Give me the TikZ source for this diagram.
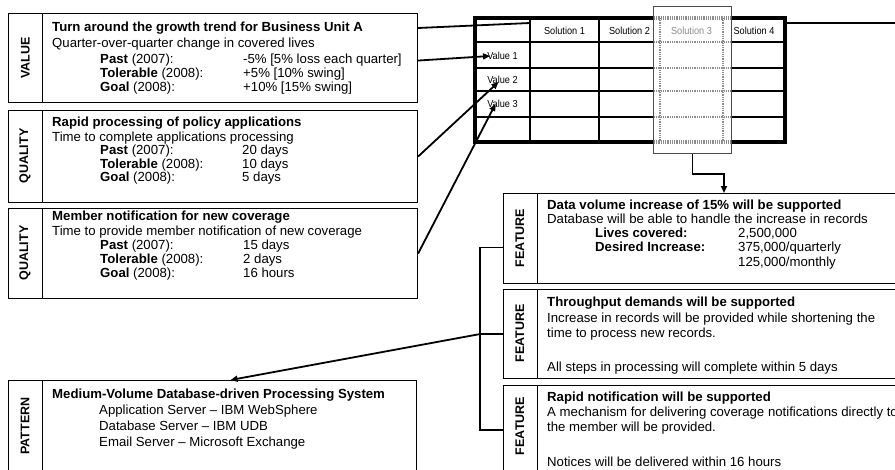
\documentclass[tikz,border=0pt]{standalone}
\usepackage{fontspec}
\setmainfont{Liberation Sans}
\newfontfamily\cellfont[FakeStretch=0.9]{Liberation Sans}
\usetikzlibrary{arrows.meta,calc}
\begin{document}
\begin{tikzpicture}[x=1pt,y=-1pt,
  box/.style={draw=black,line width=1.1pt,fill=white,anchor=north west,inner sep=0pt,
    path picture={\draw[line width=1.1pt]
      ([xshift=34pt]path picture bounding box.north west) --
      ([xshift=34pt]path picture bounding box.south west);}},
  tag/.style={rotate=90,inner sep=0pt,font=\fontsize{12.5}{14}\selectfont\bfseries},
  txt/.style={anchor=base west,inner sep=0pt,yshift=-0.9pt,font=\fontsize{13.2}{15}\selectfont},
  hd/.style={txt,font=\fontsize{13.2}{15}\selectfont\bfseries},
  cell/.style={inner sep=0pt,font=\cellfont\fontsize{10.2}{12}\selectfont},
  link/.style={line width=1.8pt},
  arr/.style={link,-{Triangle[length=7pt,width=6pt]}},
  gridline/.style={line width=2.2pt},
  gdot/.style={draw=black!45,line width=1.6pt,dash pattern=on 1pt off 0.8pt},
]
\useasboundingbox (0,0) rectangle (895,469);
\clip (0,0) rectangle (895,469);

% ---------- left column: value and quality boxes ----------
\node[box,minimum width=409pt,minimum height=89pt] (vbox) at (8,13) {};
\node[tag] (vtag) at (25.5,58) {VALUE};
\node[hd]  (vt1) at (52,30.4) {Turn around the growth trend for Business Unit A};
\node[txt] (vt2) at (52,46.2) {Quarter-over-quarter change in covered lives};
\node[txt] (vt3) at (100,62.5) {\textbf{Past} (2007):};
\node[txt] (vt4) at (243,62.5) {-5\% [5\% loss each quarter]};
\node[txt] (vt5) at (100,76.6) {\textbf{Tolerable} (2008):};
\node[txt] (vt6) at (243,76.6) {+5\% [10\% swing]};
\node[txt] (vt7) at (100,90.8) {\textbf{Goal} (2008):};
\node[txt] (vt8) at (243,90.8) {+10\% [15\% swing]};

\node[box,minimum width=409pt,minimum height=92pt] (q1) at (8,110) {};
\node[tag] (q1tag) at (25,156) {QUALITY};
\node[hd]  (q1t1) at (52,126) {Rapid processing of policy applications};
\node[txt] (q1t2) at (52,140.4) {Time to complete applications processing};
\node[txt] (q1t3) at (100,153.8) {\textbf{Past} (2007):};
\node[txt] (q1t4) at (242,153.8) {20 days};
\node[txt] (q1t5) at (100,167.1) {\textbf{Tolerable} (2008):};
\node[txt] (q1t6) at (242,167.1) {10 days};
\node[txt] (q1t7) at (100,180.4) {\textbf{Goal} (2008):};
\node[txt] (q1t8) at (242,180.4) {5 days};

\node[box,minimum width=409pt,minimum height=90pt] (q2) at (8,208) {};
\node[tag] (q2tag) at (25,253) {QUALITY};
\node[hd]  (q2t1) at (52,219.5) {Member notification for new coverage};
\node[txt] (q2t2) at (52,234.2) {Time to provide member notification of new coverage};
\node[txt] (q2t3) at (100,248.6) {\textbf{Past} (2007):};
\node[txt] (q2t4) at (243,248.6) {15 days};
\node[txt] (q2t5) at (100,262.8) {\textbf{Tolerable} (2008):};
\node[txt] (q2t6) at (243,262.8) {2 days};
\node[txt] (q2t7) at (100,277) {\textbf{Goal} (2008):};
\node[txt] (q2t8) at (243,277) {16 hours};

\node[box,minimum width=408pt,minimum height=95pt] (pat) at (8,380) {};
\node[tag] (ptag) at (25,426) {PATTERN};
\node[hd]  (pt1) at (52,398) {Medium-Volume Database-driven Processing System};
\node[txt] (pt2) at (99,413.3) {Application Server -- IBM WebSphere};
\node[txt] (pt3) at (99,429.3) {Database Server -- IBM UDB};
\node[txt] (pt4) at (99,445.2) {Email Server -- Microsoft Exchange};

% ---------- right column: feature boxes ----------
\node[box,minimum width=400pt,minimum height=90pt] (f1) at (503,193) {};
\node[tag] (f1tag) at (520,238) {FEATURE};
\node[hd]  (f1t1) at (547,208.7) {Data volume increase of 15\% will be supported};
\node[txt] (f1t2) at (547,222.3) {Database will be able to handle the increase in records};
\node[hd]  (f1t3) at (595,237) {Lives covered:};
\node[txt] (f1t4) at (738,237) {2,500,000};
\node[hd]  (f1t5) at (595,250.6) {Desired Increase:};
\node[txt] (f1t6) at (738,250.6) {375,000/quarterly};
\node[txt] (f1t7) at (738,265.4) {125,000/monthly};

\node[box,minimum width=400pt,minimum height=89pt] (f2) at (503,289) {};
\node[tag] (f2tag) at (520,333.5) {FEATURE};
\node[hd]  (f2t1) at (547,305.4) {Throughput demands will be supported};
\node[txt] (f2t2) at (547,321.6) {Increase in records will be provided while shortening the};
\node[txt] (f2t3) at (547,337) {time to process new records.};
\node[txt] (f2t4) at (547,370.4) {All steps in processing will complete within 5 days};

\node[box,minimum width=400pt,minimum height=89pt] (f3) at (503,385) {};
\node[tag] (f3tag) at (520,426) {FEATURE};
\node[hd]  (f3t1) at (547,400.4) {Rapid notification will be supported};
\node[txt] (f3t2) at (547,415.4) {A mechanism for delivering coverage notifications directly to};
\node[txt] (f3t3) at (547,430.4) {the member will be provided.};
\node[txt] (f3t4) at (547,465.4) {Notices will be delivered within 16 hours};

% ---------- value / solution matrix ----------
\draw[link] ($(vbox.north east)+(0,15)$) -- (530,23);
\draw[link] (785,23) coordinate (lineR) -- (897,23);
\foreach \x in {530,599,660,723} \draw[gridline] (\x,18) -- (\x,142);
\foreach \y in {42,68,91,117} \draw[gridline] (475,\y) -- (785,\y);
\draw[line width=4pt] (475,18) rectangle (785,142);
% highlighted solution column
\node[draw=black!70,fill=white,line width=0.8pt,anchor=north west,inner sep=0pt,
      minimum width=78pt,minimum height=147pt] (hl) at (653,6) {};
\foreach \x in {660,723} \draw[gdot] (\x,18) -- (\x,142);
\foreach \y in {42,68,91,117} \draw[gdot] (654,\y) -- (730,\y);
\draw[gdot,line width=3.2pt] (654,18) -- (730,18);
\draw[gdot,line width=3.2pt] (654,142) -- (730,142);

\node[cell] (s1) at (564.5,30.5) {Solution 1};
\node[cell] (s2) at (629.5,30.5) {Solution 2};
\node[cell,text=black!45] (s3) at (691.5,30.5) {Solution 3};
\node[cell] (s4) at (754,30.5) {Solution 4};
\node[cell] (v1) at (502.5,55.5) {Value 1};
\node[cell] (v2) at (502.5,80) {Value 2};
\node[cell] (v3) at (502.5,104) {Value 3};

% ---------- connectors ----------
\draw[arr] ($(vbox.east)+(0,2.5)$) -- ($(v1.west)+(3,0.5)$);
\draw[arr] (q1.east) -- ($(v2.center)+(-4,2)$);
\draw[arr] (q2.east) -- ($(v3.center)+(-7,0)$);
\draw[arr] (hl.south) -- ++(0,20) -| ($(f1.north west)+(221,0)$);
\draw[link] ($(f1.west)+(0,9)$) -- ++(-23,0) |- (f3.west);
\draw[link] (f2.west) -- ++(-23,0) coordinate (jn);
\draw[arr] (jn) -- ($(pat.north)+(18,0)$);
\end{tikzpicture}
\end{document}
